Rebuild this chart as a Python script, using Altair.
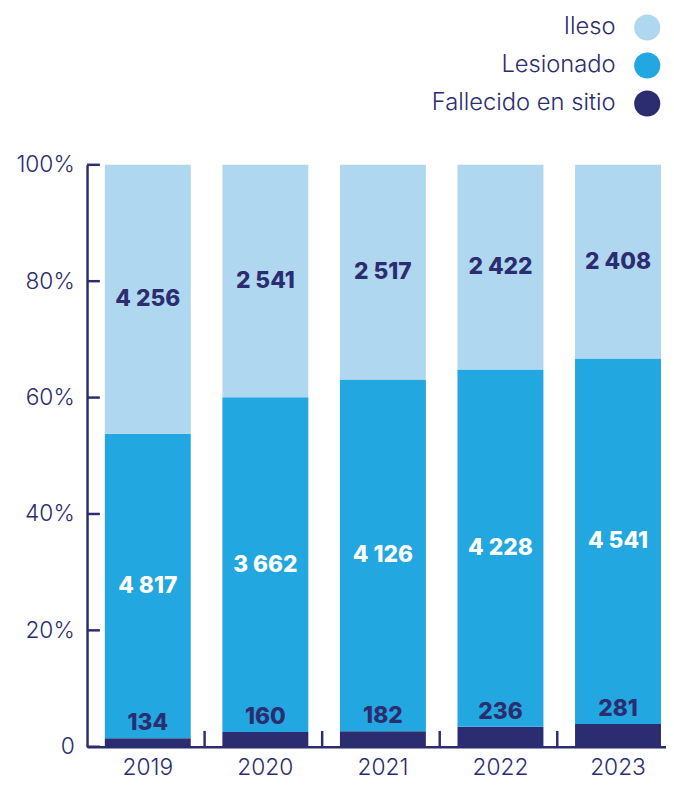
import altair as alt
import pandas as pd

years = ["2019", "2020", "2021", "2022", "2023"]
categories = ["Fallecido en sitio", "Lesionado", "Ileso"]  # bottom to top
fallecido = [134, 160, 182, 236, 281]
lesionado = [4817, 3662, 4126, 4228, 4541]
ileso = [4256, 2541, 2517, 2422, 2408]
legend_order = ["Ileso", "Lesionado", "Fallecido en sitio"]
colors = ["#2B2D70", "#23A7E0", "#B0D7F0"]
y_ticks = [0, 0.2, 0.4, 0.6, 0.8, 1.0]

NAVY = "#2B2D70"
FONT = "Inter"

rows = []
for i, yr in enumerate(years):
    for k, (cat, vals) in enumerate(zip(categories, [fallecido, lesionado, ileso])):
        rows.append({"year": yr, "cat": cat, "count": vals[i], "ord": k})
df = pd.DataFrame(rows)

yscale = alt.Scale(domain=[0, 1])
color_scale = alt.Scale(domain=categories, range=colors)

xenc = alt.X(
    "year:N", sort=years, title=None,
    scale=alt.Scale(paddingInner=0.269, paddingOuter=0.097, align=0.78),
    axis=alt.Axis(labelAngle=0, ticks=False, domainColor=NAVY, domainWidth=2.5,
                  labelColor=NAVY, labelFont=FONT, labelFontSize=23,
                  labelFontWeight=300, labelPadding=10),
)

base = alt.Chart(df).transform_stack(
    stack="count", groupby=["year"], as_=["y0", "y1"], offset="normalize",
    sort=[alt.SortField("ord", order="ascending")],
).transform_calculate(
    mid="(datum.y0 + datum.y1) / 2",
    label="replace(format(datum.count, ','), ',', ' ')",
)

bars = base.mark_bar().encode(
    x=xenc,
    y=alt.Y("y0:Q", scale=yscale, title=None,
            axis=alt.Axis(values=y_ticks, grid=False, ticks=False,
                          domainColor=NAVY, domainWidth=2.5,
                          labelColor=NAVY, labelFont=FONT, labelFontSize=23,
                          labelFontWeight=300, labelPadding=13,
                          labelExpr="datum.value == 0 ? '0' : format(datum.value, '.0%')")),
    y2="y1:Q",
    color=alt.Color("cat:N", scale=color_scale, legend=None),
)

mid_text = base.transform_filter("datum.cat != 'Fallecido en sitio'").mark_text(
    font=FONT, fontSize=23, fontWeight=800, baseline="middle"
).encode(
    x=alt.X("year:N", sort=years, title=None),
    y=alt.Y("mid:Q", scale=yscale, title=None),
    text="label:N",
    color=alt.condition("datum.cat == 'Lesionado'", alt.value("white"), alt.value(NAVY)),
)

top_text = base.transform_filter("datum.cat == 'Fallecido en sitio'").mark_text(
    font=FONT, fontSize=23, fontWeight=800, baseline="bottom", dy=-3, color=NAVY
).encode(
    x=alt.X("year:N", sort=years, title=None),
    y=alt.Y("y1:Q", scale=yscale, title=None),
    text="label:N",
)

ytick_rules = alt.Chart(pd.DataFrame({"v": y_ticks})).mark_rule(
    color=NAVY, strokeWidth=2.5
).encode(
    y=alt.Y("v:Q", scale=yscale, title=None),
    x=alt.value(0), x2=alt.value(13),
)

xtick_rules = alt.Chart(pd.DataFrame({"year": years[1:]})).mark_rule(
    color=NAVY, strokeWidth=2.5, xOffset=-18
).encode(
    x=alt.X("year:N", sort=years, bandPosition=0, title=None),
    y=alt.value(573), y2=alt.value(589),
)

main = alt.layer(bars, mid_text, top_text, ytick_rules, xtick_rules)

leg_y = alt.Y("cat:N", scale=alt.Scale(domain=legend_order, range=[-139, -62], padding=0), axis=None)
leg_df = pd.DataFrame({"cat": legend_order})
leg_circles = alt.Chart(leg_df).mark_circle(size=700, opacity=1).encode(
    y=leg_y, x=alt.value(567),
    color=alt.Color("cat:N", scale=color_scale, legend=None),
)
leg_text = alt.Chart(leg_df).mark_text(
    align="right", baseline="middle", font=FONT, fontSize=24, fontWeight=300, color=NAVY
).encode(y=leg_y, x=alt.value(535), text="cat:N")

chart = alt.layer(main, leg_circles, leg_text).resolve_scale(y="independent").properties(
    width=586, height=589,
    autosize=alt.AutoSizeParams(type="none"),
    padding={"left": 80, "top": 154, "right": 0, "bottom": 32},
).configure_view(stroke=None)

chart.save("out.html", embed_options={"renderer": "svg", "actions": False})
